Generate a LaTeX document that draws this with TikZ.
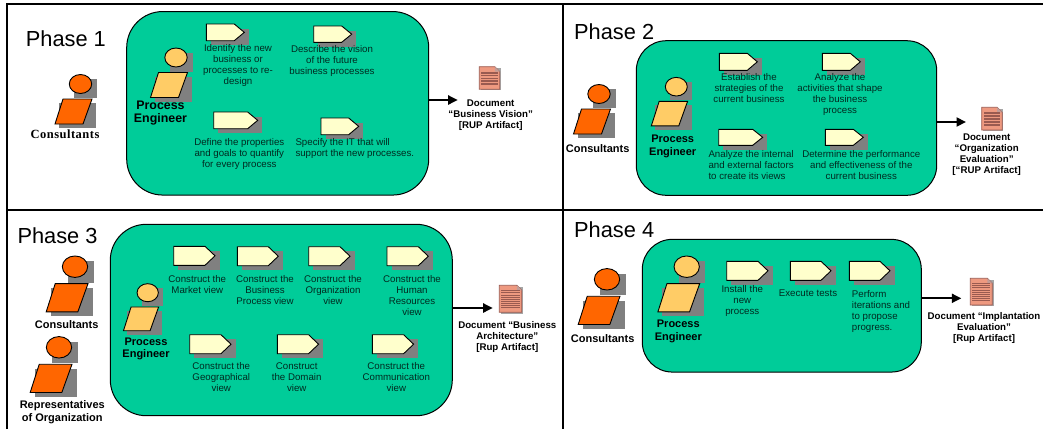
\documentclass[tikz,border=0pt]{standalone}
\usepackage{fontspec}
\setmainfont{Liberation Sans}
\newfontfamily\timesbold[LetterSpace=4]{Liberation Serif Bold}
\usetikzlibrary{arrows.meta}
\definecolor{panelgreen}{HTML}{00CC99}
\definecolor{shadowgray}{HTML}{808080}
\definecolor{consorange}{HTML}{FF6600}
\definecolor{engyellow}{HTML}{FFCC66}
\definecolor{taskcream}{HTML}{FFFFCC}
\definecolor{docsalmon}{HTML}{EE9980}
\definecolor{docstripe}{HTML}{9A5A50}
\definecolor{taskink}{HTML}{002A20}
\tikzset{
  frameline/.style={line width=2pt,black},
  greenbox/.style={draw=black,line width=1pt,fill=panelgreen,inner sep=0pt,outer sep=0pt},
  flow/.style={line width=2pt,-{Triangle[length=9.5pt,width=9pt]}},
  title/.style={anchor=base west,inner sep=0pt,font=\fontsize{21.8}{24}\selectfont},
  tasktext/.style={anchor=north,inner sep=0pt,align=center,text=taskink,font=\fontsize{9.7}{11}\selectfont},
  tasktextl/.style={tasktext,anchor=north west,align=left},
  doctext/.style={anchor=north,inner sep=0pt,align=center,font=\fontsize{9.7}{11}\bfseries\selectfont},
  rolesmall/.style={inner sep=0pt,align=center,font=\fontsize{11}{12.4}\bfseries\selectfont},
  rolebig/.style={inner sep=0pt,align=center,font=\fontsize{12.4}{13}\bfseries\selectfont},
  roleserif/.style={inner sep=0pt,font=\fontsize{12.5}{13}\timesbold\selectfont},
  outline/.style={draw=black,line width=0.9pt},
  taskshape/.style={draw=black,line width=0.9pt,fill=taskcream}
}
% person: head centre x y, scale, colour
\newcommand{\actor}[4]{%
  \begin{scope}[shift={(#1,#2)},scale=#3]
    \fill[shadowgray] (-6.5,-5) rectangle (16.5,14);
    \fill[shadowgray] (-21.5,19) rectangle (15.5,44);
    \draw[outline,fill=#4] (0,0) ellipse [x radius=11.2,y radius=9.5];
    \draw[outline,fill=#4] (-17.5,15) -- (11.5,15) -- (2.5,40) -- (-25.5,40) -- cycle;
  \end{scope}}
% task arrow: left x, top y, width, height
\newcommand{\task}[4]{%
  \begin{scope}[shift={(#1,#2)}]
    \fill[shadowgray] (4.5,4.5) rectangle ({#3+4.5},{#4+4.5});
    \draw[taskshape] (0,0) -- ({#3-10},0) -- (#3,{#4/2}) -- ({#3-10},#4) -- (0,#4) -- cycle;
  \end{scope}}
% document: name, left x, top y, width, height, number of stripes, stripe share
\newcommand{\docicon}[7]{%
  \begin{scope}[shift={(#2,#3)}]
    \fill[shadowgray!70] (1.2,1.2) rectangle ({#4+1.2},{#5+1.2});
    \draw[draw=docstripe,line width=0.8pt,fill=docsalmon] (0,0) -- ({#4-5},0) -- (#4,5) -- (#4,#5) -- (0,#5) -- cycle;
    \fill[docstripe!60!white] ({#4-5},0) -- (#4,5) -- ({#4-5},5) -- cycle;
    \pgfmathsetmacro{\stripestep}{(#5-8)/#6}
    \pgfmathsetmacro{\stripeh}{\stripestep*#7}
    \foreach \k in {1,...,#6}{
      \fill[docstripe] (2,{5+(\k-1)*\stripestep}) rectangle ({#4-2},{5+(\k-1)*\stripestep+\stripeh});
    }
    \node[inner sep=0pt,outer sep=0pt,minimum width=#4,minimum height=#5] (#1) at ({#4/2},{#5/2}) {};
  \end{scope}}
\begin{document}
\begin{tikzpicture}[x=1pt,y=-1pt]
\useasboundingbox (0,0) rectangle (1043,429);
\fill[white] (0,0) rectangle (1043,429);
% frame
\draw[frameline] (7,429) -- (7,4.3) -- (1043,4.3);
\draw[frameline] (7,209.5) -- (1043,209.5);
\draw[frameline] (563,4.3) -- (563,429);

% ---------- Phase 1
\node[greenbox,rounded corners=36pt,minimum width=302pt,minimum height=183.5pt] (p1box) at (277.7,103.3) {};
\node[title] (p1title) at (25.7,46.2) {Phase 1};
\actor{80.5}{84}{1}{consorange}
\node[roleserif] (p1cons) at (65,134) {Consultants};
\actor{176}{57.5}{1}{engyellow}
\node[rolebig] (p1pe) at (160.5,113) {Process\\Engineer};
\task{206.3}{24}{38}{16.7}
\task{313.7}{26}{38}{16.3}
\task{213.7}{112}{44}{16.7}
\task{321}{118}{37.7}{16.7}
\node[tasktext] (p1a) at (238,44) {Identify the new\\business or\\processes to re-\\design};
\node[tasktext] (p1b) at (332,45) {Describe the vision\\of the future\\business processes};
\node[tasktext] (p1c) at (239.3,138) {Define the properties\\and goals to quantify\\for every process};
\node[tasktextl] (p1d) at (295.3,138) {Specify the IT that will\\support the new processes.};
\docicon{p1doc}{479.3}{66.7}{20.5}{22.5}{5}{0.62}
\coordinate (p1end) at (457.7,100);
\draw[flow] (p1box.east |- p1end) -- (p1end);
\node[doctext] (p1doctext) at (490.7,99.2) {Document\\“Business Vision”\\{[RUP Artifact]}};

% ---------- Phase 2
\node[greenbox,rounded corners=30pt,minimum width=300.4pt,minimum height=154.6pt] (p2box) at (786.5,118) {};
\node[title] (p2title) at (574,39.5) {Phase 2};
\actor{599}{94}{1}{consorange}
\node[rolesmall] (p2cons) at (597.7,148.3) {Consultants};
\actor{676.3}{86.7}{0.98}{engyellow}
\node[rolesmall] (p2pe) at (672.7,146.2) {Process\\Engineer};
\task{719.3}{53.3}{38}{17}
\task{822.3}{53.3}{38}{17}
\task{718.7}{129.3}{44}{16}
\task{825.3}{129.3}{38}{16}
\node[tasktext] (p2a) at (749,73) {Establish the\\strategies of the\\current business};
\node[tasktext] (p2b) at (840,73) {Analyze the\\activities that shape\\the business\\process};
\node[tasktextl] (p2c) at (708.3,150) {Analyze the internal\\and external factors\\to create its views};
\node[tasktext] (p2d) at (861.3,150) {Determine the performance\\and effectiveness of the\\current business};
\docicon{p2doc}{981.7}{107.3}{20.5}{22.7}{5}{0.62}
\coordinate (p2end) at (966,122);
\draw[flow] (p2box.east |- p2end) -- (p2end);
\node[doctext] (p2doctext) at (986.7,133.2) {Document\\“Organization\\Evaluation”\\{[“RUP Artifact]}};

% ---------- Phase 3
\node[greenbox,rounded corners=36pt,minimum width=342pt,minimum height=191.4pt] (p3box) at (281.3,320) {};
\node[title] (p3title) at (17.3,243.8) {Phase 3};
\actor{75}{266.7}{1.13}{consorange}
\node[rolesmall] (p3cons) at (66.7,324.3) {Consultants};
\actor{59}{347.3}{1.13}{consorange}
\node[rolesmall] (p3rep) at (62.3,412) {Representatives\\of Organization};
\actor{147.7}{292.7}{0.95}{engyellow}
\node[rolesmall] (p3pe) at (146,349) {Process\\Engineer};
\task{173.7}{246.3}{41.3}{19}
\task{237.3}{246.7}{41}{19}
\task{308.7}{246.7}{41.3}{19}
\task{387}{246.7}{41.3}{19}
\task{189.7}{334.7}{41.3}{19}
\task{277.3}{334.7}{41.3}{19}
\task{372.3}{334.7}{41.3}{19}
\node[tasktext] (p3a) at (197.3,275) {Construct the\\Market view};
\node[tasktext] (p3b) at (265,275) {Construct the\\Business\\Process view};
\node[tasktext] (p3c) at (333,275) {Construct the\\Organization\\view};
\node[tasktext] (p3d) at (412,275) {Construct the\\Human\\Resources\\view};
\node[tasktext] (p3e) at (221.3,362.7) {Construct the\\Geographical\\view};
\node[tasktext] (p3f) at (296.7,362.7) {Construct\\the Domain\\view};
\node[tasktext] (p3g) at (396.3,362.7) {Construct the\\Communication\\view};
\docicon{p3doc}{499.3}{285.3}{22.5}{27}{9}{0.45}
\coordinate (p3end) at (492.7,308);
\draw[flow] (p3box.east |- p3end) -- (p3end);
\node[doctext] (p3doctext) at (507.3,321.2) {Document “Business\\Architecture”\\{[Rup Artifact]}};

% ---------- Phase 4
\node[greenbox,rounded corners=30pt,minimum width=279pt,minimum height=132.7pt] (p4box) at (781.8,305.7) {};
\node[title] (p4title) at (574,237.2) {Phase 4};
\actor{607}{279.3}{1.13}{consorange}
\node[rolesmall] (p4cons) at (602.7,338.3) {Consultants};
\actor{686.7}{266.7}{1.13}{engyellow}
\node[rolesmall] (p4pe) at (678.3,331.2) {Process\\Engineer};
\task{726.7}{261.3}{41.3}{19}
\task{790.3}{261.3}{40.7}{19}
\task{849.3}{261.3}{40.7}{19}
\node[tasktext] (p4a) at (742.3,285) {Install the\\new\\process};
\node[tasktext] (p4b) at (808,290) {Execute tests};
\node[tasktextl] (p4c) at (851.7,290) {Perform\\iterations and\\to propose\\progress.};
\docicon{p4doc}{970.3}{278.3}{22}{26.7}{9}{0.45}
\coordinate (p4end) at (961.3,298.3);
\draw[flow] (p4box.east |- p4end) -- (p4end);
\node[doctext] (p4doctext) at (984,312.2) {Document “Implantation\\Evaluation”\\{[Rup Artifact]}};
\end{tikzpicture}
\end{document}
